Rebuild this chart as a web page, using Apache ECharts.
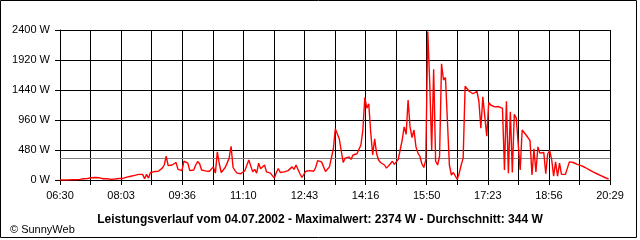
<!DOCTYPE html>
<html>
<head>
<meta charset="utf-8">
<script src="https://cdn.jsdelivr.net/npm/echarts@6/dist/echarts.min.js"></script>
<style>
  html, body { margin: 0; padding: 0; background: #ffffff; }
  #chart { width: 640px; height: 240px; }
</style>
</head>
<body>
<div id="chart"></div>
<script>
// ---- data ----
const startMinute = 390;          // 06:30
const endMinute = 1229;           // 20:29
const stepMinutes = 3;            // sample spacing
const tickLabels = ['06:30', '08:03', '09:36', '11:10', '12:43', '14:16', '15:50', '17:23', '18:56', '20:29'];
const yTicks = [0, 480, 960, 1440, 1920, 2400];
const average = 344;
const titleText = 'Leistungsverlauf vom 04.07.2002 - Maximalwert: 2374 W - Durchschnitt: 344 W';
const copyright = '\u00A9 SunnyWeb';
const watts = [
  0, 0, 0, 0, 0, 0, 5, 5, 5, 8,
  10, 15, 20, 15, 25, 20, 35, 30, 40, 25,
  35, 15, 20, 15, 20, 15, 10, 15, 15, 20,
  25, 30, 25, 30, 45, 55, 60, 70, 75, 80,
  90, 85, 90, 20, 90, 30, 120, 140, 135, 150,
  140, 165, 190, 240, 380, 230, 215, 240, 260, 280,
  170, 140, 150, 300, 310, 270, 150, 135, 160, 240,
  295, 260, 160, 135, 145, 155, 140, 160, 210, 110,
  450, 260, 120, 130, 200, 270, 350, 540, 200, 150,
  110, 90, 100, 85, 150, 180, 320, 305, 130, 170,
  110, 270, 180, 165, 240, 130, 150, 110, 125, 30,
  120, 185, 120, 110, 130, 160, 150, 180, 210, 170,
  240, 265, 100, 40, 10, 140, 120, 150, 160, 140,
  200, 310, 320, 290, 260, 135, 150, 210, 230, 500,
  820, 800, 660, 690, 280, 350, 330, 370, 330, 400,
  400, 420, 430, 560, 800, 1320, 1150, 1220, 760, 400,
  660, 420, 320, 280, 260, 240, 190, 210, 260, 300,
  250, 220, 330, 360, 640, 850, 730, 1280, 850, 680,
  800, 530, 430, 380, 260, 200, 320, 2374, 1560, 480,
  1770, 300, 240, 380, 1860, 1600, 1640, 1660, 240, 80,
  120, 130, 10, 110, 240, 350, 1500, 1480, 1420, 1420,
  1380, 1380, 1420, 1260, 830, 1330, 1310, 700, 1240, 1200,
  1180, 1170, 1160, 1175, 1150, 1145, 160, 1260, 110, 1090,
  120, 1050, 990, 1000, 160, 800, 790, 720, 690, 630,
  80, 500, 130, 530, 430, 420, 440, 100, 420, 470,
  330, 60, 290, 60, 270, 90, 60, 90, 120, 290,
  260, 280, 270, 250, 240, 230, 215, 200, 180, 165,
  150, 130, 115, 100, 80, 70, 60, 40, 30, 15
];

// ---- chart ----
const span = endMinute - startMinute;
const xInterval = span / 18;
const seriesData = watts.map((w, i) => [i * stepMinutes, w]);

const chart = echarts.init(document.getElementById('chart'), null, { renderer: 'canvas' });
const font = 'Arial, "Liberation Sans", sans-serif';

chart.setOption({
  animation: false,
  backgroundColor: '#ffffff',
  grid: { left: 60, top: 30, width: 550, height: 150, containLabel: false },
  xAxis: {
    type: 'value',
    min: 0,
    max: span,
    interval: xInterval,
    axisLine: { show: true, lineStyle: { color: '#000', width: 1 } },
    axisTick: { show: true, length: 5, lineStyle: { color: '#000', width: 1 } },
    splitLine: { show: true, lineStyle: { color: '#000', width: 1 } },
    axisLabel: {
      color: '#000', fontFamily: font, fontSize: 11, margin: 10,
      showMinLabel: true, showMaxLabel: true,
      formatter: function (v) {
        const idx = Math.round(v / xInterval);
        if (idx % 2 !== 0) return '';
        return tickLabels[idx / 2] || '';
      }
    }
  },
  yAxis: {
    type: 'value',
    min: yTicks[0],
    max: yTicks[yTicks.length - 1],
    interval: yTicks[1] - yTicks[0],
    axisLine: { show: true, lineStyle: { color: '#000', width: 1 } },
    axisTick: { show: true, length: 5, lineStyle: { color: '#000', width: 1 } },
    splitLine: { show: true, lineStyle: { color: '#000', width: 1 } },
    axisLabel: {
      color: '#000', fontFamily: font, fontSize: 11, margin: 10,
      formatter: function (v) { return String(Math.round(v)) + ' W'; }
    }
  },
  series: [{
    type: 'line',
    data: seriesData,
    showSymbol: false,
    symbol: 'none',
    lineStyle: { color: '#ff0000', width: 1.4 },
    itemStyle: { color: '#ff0000' },
    z: 3,
    markLine: {
      silent: true,
      symbol: 'none',
      label: { show: false },
      lineStyle: { color: '#808080', type: 'solid', width: 1 },
      data: [{ yAxis: average }],
      z: 2
    }
  }],
  title: [{
    text: titleText,
    left: 'center',
    top: 209,
    textStyle: { fontFamily: font, fontSize: 12, fontWeight: 'bold', color: '#000' }
  }, {
    text: copyright,
    left: 5,
    top: 219,
    textStyle: { fontFamily: font, fontSize: 11, fontWeight: 'normal', color: '#000' }
  }],
  graphic: [{
    type: 'rect',
    shape: { x: 0.5, y: 0.5, width: 636, height: 237 },
    style: { fill: 'none', stroke: '#000', lineWidth: 1 },
    silent: true
  }]
});
</script>
</body>
</html>
